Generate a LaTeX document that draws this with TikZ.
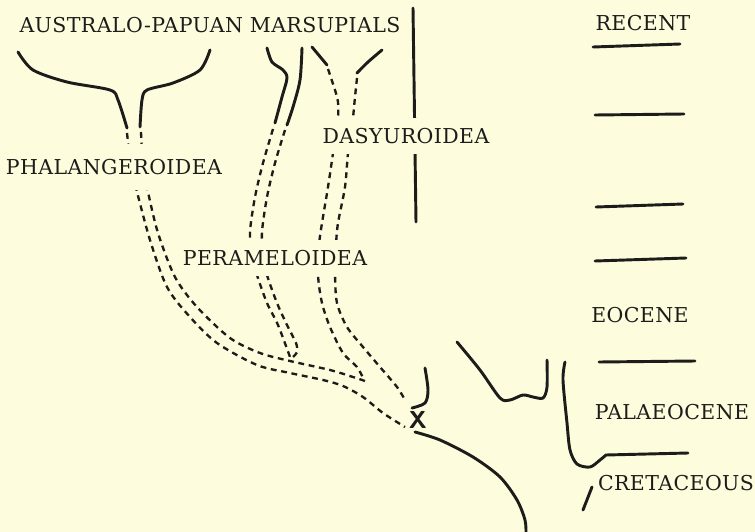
\documentclass[tikz,border=0pt]{standalone}
\usepackage{fontspec}
\setmainfont{DejaVu Serif}[LetterSpace=2]
\usepackage{tikz}
\usetikzlibrary{arrows.meta}
\definecolor{paper}{RGB}{253,253,222}
\definecolor{ink}{RGB}{30,28,26}

\begin{document}
\begin{tikzpicture}[x=0.03cm, y=-0.03cm,
    lbl/.style={font=\fontsize{17.5}{20}\selectfont, text=ink, fill=paper, inner xsep=1pt},
    branch/.style={draw=ink, line width=2.5pt, line cap=round},
    ghost/.style={draw=ink, line width=2pt, dash pattern=on 5pt off 4pt}]
\fill[paper] (0,0) rectangle (755,532);
\useasboundingbox (0,0) rectangle (755,532);
% time scale on the right
\foreach \ya/\yb/\xa/\xb in {47/44/593/680, 115/114/595/684, 207/204/596/683, 261/258/595/686, 362/361/599/695}
    \draw[branch] (\xa,\ya) -- (\xb,\yb);
\draw[branch] (413,8) -- (416,222);
% phalangeroids
\draw[branch] plot[smooth] coordinates {(18,52) (33,70) (67,82) (110,90) (118,100) (127,128)};
\draw[branch] plot[smooth] coordinates {(210,50) (200,70) (173,83) (147,90) (142,100) (140,127)};
\draw[ghost] plot[smooth] coordinates {(127,133) (129,150) (133,175) (136,188) (150,240) (167,287) (190,317) (217,343) (257,365) (290,373) (323,380) (343,386) (363,397) (383,413) (405,427)};
\draw[ghost] plot[smooth] coordinates {(141,132) (142,150) (145,175) (148,192) (158,233) (175,277) (197,307) (230,338) (260,353) (290,361) (330,370) (353,377) (365,381)};
% perameloids
\draw[branch] plot[smooth] coordinates {(267,48) (272,62) (283,70) (287,78) (282,97) (275,123)};
\draw[branch] plot[smooth] coordinates {(302,48) (300,80) (293,107) (287,125)};
\draw[ghost] plot[smooth] coordinates {(273,129) (263,163) (255,197) (250,232) (252,255) (257,275) (267,303) (278,325) (290,357)};
\draw[ghost] plot[smooth] coordinates {(285,130) (275,163) (267,197) (262,232) (263,255) (267,275) (277,303) (287,325) (296,343) (297,352) (292,358)};
% dasyuroids
\draw[branch] plot[smooth] coordinates {(312,47) (327,65)};
\draw[branch] plot[smooth] coordinates {(382,50) (368,62) (357,73)};
\draw[ghost] plot[smooth] coordinates {(328,69) (335,90) (338,102) (338,118) (335,135) (333,153) (328,187) (322,223) (319,245) (318,275) (322,303) (330,327) (343,353) (357,367) (364,380)};
\draw[ghost] plot[smooth] coordinates {(357,78) (355,97) (353,118) (351,135) (348,153) (345,187) (338,223) (336,245) (335,273) (337,303) (347,327) (363,347) (380,367) (397,387) (405,400)};
% stem and other stocks
\draw[branch] plot[smooth] coordinates {(425,368) (428,390) (425,403) (412,408)};
\draw[branch] plot[smooth] coordinates {(415,432) (440,440) (473,457) (500,477) (517,500) (525,520) (526,534)};
\draw[branch] plot[smooth] coordinates {(457,342) (480,370) (500,398) (510,400) (523,395) (533,397) (543,398) (547,387) (547,360)};
\draw[branch] plot[smooth] coordinates {(565,362) (563,380) (567,423) (570,450) (577,464) (590,467) (600,460) (606,455)} -- (688,453);
\draw[branch] (583,510) -- (592,487);
% labels
\node[lbl] (title) at (210,25) {AUSTRALO-PAPUAN MARSUPIALS};
\node[lbl, inner ysep=13pt] (phal) at (114,167) {PHALANGEROIDEA};
\node[lbl, inner ysep=9pt] (peram) at (275,258) {PERAMELOIDEA};
\node[lbl, inner ysep=9pt] (dasy) at (406,136) {DASYUROIDEA};
\node[lbl] (recent) at (643,23) {RECENT};
\node[lbl] (eocene) at (640,315) {EOCENE};
\node[lbl] (palaeo) at (672,412) {PALAEOCENE};
\node[lbl] (cretac) at (676,483) {CRETACEOUS};
\node[font=\fontsize{21}{21}\sffamily\bfseries, text=ink, inner sep=0pt] (xmark) at (418,420) {X};
\end{tikzpicture}
\end{document}
